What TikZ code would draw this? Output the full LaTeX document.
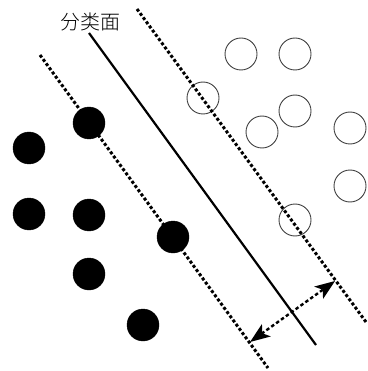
\documentclass[tikz,border=0pt]{standalone}
\usepackage{fontspec}
\newfontfamily\cjk{Noto Sans CJK SC Light}
\usetikzlibrary{arrows.meta}
\begin{document}
\begin{tikzpicture}[x=1pt,y=-1pt,
  posdot/.style={circle,fill=black,draw=black,minimum size=32pt,inner sep=0pt},
  negdot/.style={circle,draw=black!75,line width=0.9pt,minimum size=32pt,inner sep=0pt},
  marginline/.style={line width=3pt,dash pattern=on 3pt off 2.2pt},
  sepline/.style={line width=2.2pt},
  gaparrow/.style={line width=2.4pt,dash pattern=on 3.5pt off 2.5pt,{Stealth[length=20pt,width=15pt,inset=5pt]}-{Stealth[length=20pt,width=15pt,inset=5pt]}}]
\useasboundingbox (0,0) rectangle (367,371);
% label
\node (lbl) at (90,22) {\cjk\fontsize{20pt}{22pt}\selectfont 分类面};
% filled (positive) points
\node[posdot] (p1) at (29,148) {};
\node[posdot] (p2) at (89,123) {};
\node[posdot] (p3) at (29,214) {};
\node[posdot] (p4) at (89,215) {};
\node[posdot] (p5) at (173,237) {};
\node[posdot] (p6) at (89,274) {};
\node[posdot] (p7) at (143,325) {};
% open (negative) points
\node[negdot] (n1) at (203,98) {};
\node[negdot] (n2) at (241,54) {};
\node[negdot] (n3) at (295,54) {};
\node[negdot] (n4) at (295,111) {};
\node[negdot] (n5) at (262,132) {};
\node[negdot] (n6) at (350,128) {};
\node[negdot] (n7) at (350,186) {};
\node[negdot] (n8) at (295,220) {};
% lines
\coordinate (s1) at (89,33);
\coordinate (s2) at (316,345);
\coordinate (l1) at (40,55);
\coordinate (l2) at (268,368);
\coordinate (r1) at (137,9);
\coordinate (r2) at (366,322);
\draw[sepline] (s1) -- (s2);
\draw[marginline] (l1) -- (l2);
\draw[marginline] (r1) -- (r2);
% margin arrow
\coordinate (a1) at (250,342);
\coordinate (a2) at (335,281);
\draw[gaparrow] (a1) -- (a2);
\end{tikzpicture}
\end{document}
